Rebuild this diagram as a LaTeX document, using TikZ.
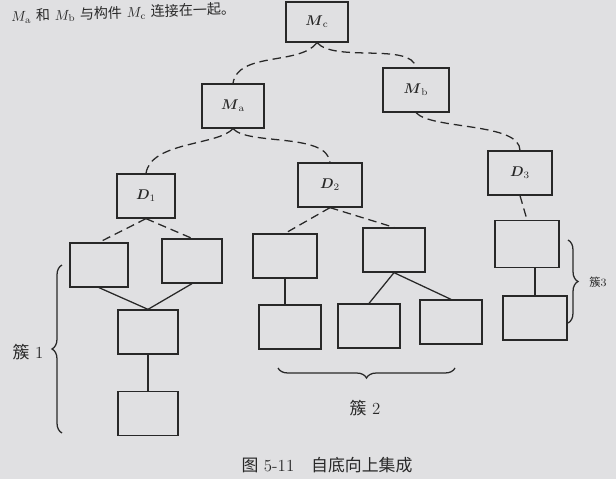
\documentclass[tikz,border=0pt]{standalone}
\usepackage{amsmath,amssymb}
\usepackage{fontspec}
\newfontfamily\cjk{Noto Sans CJK SC}
\usetikzlibrary{positioning,decorations.pathreplacing}
\definecolor{paper}{RGB}{224,224,226}
\definecolor{ink}{RGB}{40,40,40}

\begin{document}
\begin{tikzpicture}[x=0.025cm, y=-0.025cm, ink, line width=0.9pt]
        \tikzstyle{unit}=[draw, rectangle, minimum width=1.55cm, minimum height=1.1cm, inner sep=0pt]
        \tikzstyle{link}=[dash pattern=on 6pt off 3.5pt]
        \tikzstyle{cluster}=[decorate, decoration={brace, amplitude=0.25cm}]

        \fill[paper] (0,0) rectangle (616,479);
        \useasboundingbox (0,0) rectangle (616,479);

        \node[anchor=west, rotate=2] (intro) at (6,17)
            {$M_{\mathrm{a}}$ {\cjk 和} $M_{\mathrm{b}}$ {\cjk 与构件} $M_{\mathrm{c}}$ {\cjk 连接在一起。}};

        % modules
        \node[unit, minimum height=1cm] (mc) at (317,22) {$\boldsymbol{M}_{\mathrm{c}}$};
        \node[unit] (ma) at (233,106) {$\boldsymbol{M}_{\mathrm{a}}$};
        \node[unit, minimum width=1.65cm] (mb) at (416,90) {$\boldsymbol{M}_{\mathrm{b}}$};

        % drivers
        \node[unit, minimum width=1.45cm] (d1) at (146,196) {$\boldsymbol{D}_1$};
        \node[unit, minimum width=1.6cm] (d2) at (330,185) {$\boldsymbol{D}_2$};
        \node[unit, minimum width=1.6cm] (d3) at (520,173) {$\boldsymbol{D}_3$};

        \node[unit, minimum width=1.45cm] (l1) at (99,265) {};
        \node[unit, minimum width=1.5cm] (l2) at (192,261) {};
        \node[unit, minimum width=1.6cm] (l3) at (285,256) {};
        \node[unit] (l4) at (394,250) {};
        \node[unit, minimum width=1.6cm, minimum height=1.18cm] (l5) at (527,244) {};

        \node[unit, minimum width=1.5cm] (m1) at (148,332) {};
        \node[unit, minimum width=1.5cm] (b1) [below=0.9cm of m1] {};
        \node[unit] (m3) at (290,327) {};
        \node[unit] (m4a) at (369,326) {};
        \node[unit] (m4b) at (451,322) {};
        \node[unit, minimum width=1.6cm] (m5) at (535,318) {};

        \draw[link] (mc.south) .. controls +(-17,23) and +(5,-32) .. (ma.north);
        \draw[link] (mc.south) .. controls +(18,20) and +(-5,-25) .. (mb.north);
        \draw[link] (ma.south) .. controls +(-15,17) and +(5,-32) .. (d1.north);
        \draw[link] (ma.south) .. controls +(15,17) and +(-3,-30) .. (d2.north);
        \draw[link] (mb.south) .. controls +(15,17) and +(0,-28) .. (d3.north);

        \draw[link] (d1.south) -- (l1.north);
        \draw[link] (d1.south) -- (l2.north);
        \draw[link] (d2.south) -- (l3.north);
        \draw[link] (d2.south) -- (l4.north);
        \draw[link] (d3.south) -- (l5.north);

        \draw (l1.south) -- (m1.north);
        \draw (l2.south) -- (m1.north);
        \draw (m1) -- (b1);
        \draw (l3.south) -- (l3.south |- m3.north);
        \draw (l4.south) -- (m4a.north);
        \draw (l4.south) -- (m4b.north);
        \draw (m5.north |- l5.south) -- (m5.north);

        % clusters
        \draw[cluster] (62,433) -- (62,265);
        \node[font=\large] (k1) at (28,352) {{\cjk 簇} 1};
        \draw[cluster] (455,368) -- (278,368);
        \node[font=\large] (k2) at (365,408) {{\cjk 簇} 2};
        \draw[cluster] (568,240) -- (568,323);
        \node[font=\footnotesize] (k3) at (598,282) {{\cjk 簇}3};

        \node[font=\large] (caption) at (327,465) {{\cjk 图} 5-11\quad{\cjk 自底向上集成}};
    \end{tikzpicture}
\end{document}
